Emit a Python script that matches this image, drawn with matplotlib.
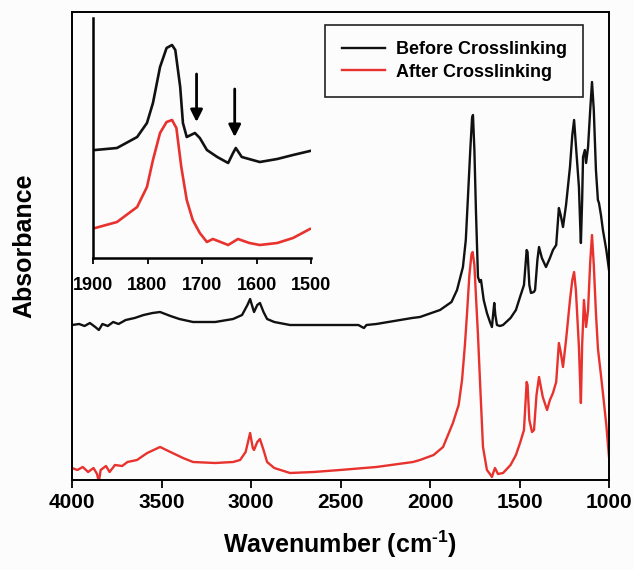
import numpy as np
import matplotlib
matplotlib.use("Agg")
import matplotlib.pyplot as plt

plt.rcParams['font.family'] = ['Liberation Sans', 'DejaVu Sans']
plt.rcParams['font.weight'] = 'bold'
plt.rcParams['mathtext.fontset'] = 'custom'
plt.rcParams['mathtext.rm'] = 'Liberation Sans:bold'

# main spectra (wavenumber, absorbance a.u.)
before_wn = [4000, 3960, 3930, 3900, 3870, 3850, 3830, 3800, 3770, 3740, 3700, 3650, 3600,
             3550, 3508, 3450, 3400, 3324, 3200, 3100, 3050, 3020, 3005, 2990, 2983, 2965,
             2950, 2930, 2910, 2870, 2782, 2600, 2400, 2380, 2369, 2355, 2300, 2200, 2100,
             2056, 1944, 1880, 1849, 1816, 1800, 1788, 1775, 1765, 1760, 1752, 1743, 1732,
             1722, 1715, 1700, 1682, 1665, 1654, 1646, 1641, 1635, 1626, 1610, 1592, 1550,
             1520, 1497, 1475, 1460, 1455, 1445, 1436, 1420, 1413, 1400, 1391, 1375, 1352,
             1330, 1313, 1295, 1280, 1270, 1257, 1240, 1218, 1205, 1195, 1185, 1168, 1160,
             1157, 1150, 1145, 1135, 1128, 1117, 1105, 1095, 1085, 1073, 1062, 1056, 1045,
             1034, 1015, 1000]
before_abs = [1.55, 1.56, 1.54, 1.57, 1.53, 1.50, 1.56, 1.54, 1.58, 1.56, 1.60, 1.62, 1.65,
              1.67, 1.68, 1.64, 1.61, 1.58, 1.58, 1.61, 1.65, 1.75, 1.81, 1.72, 1.68, 1.75,
              1.77, 1.68, 1.61, 1.58, 1.55, 1.55, 1.55, 1.53, 1.52, 1.55, 1.56, 1.59, 1.62,
              1.63, 1.70, 1.78, 1.90, 2.13, 2.40, 2.83, 3.30, 3.62, 3.65, 3.30, 2.67, 2.03,
              1.98, 2.00, 1.80, 1.67, 1.58, 1.53, 1.68, 1.77, 1.65, 1.55, 1.54, 1.55, 1.62,
              1.70, 1.83, 1.95, 2.30, 2.28, 1.95, 1.87, 1.88, 1.90, 2.20, 2.33, 2.22, 2.13,
              2.22, 2.30, 2.35, 2.72, 2.65, 2.53, 2.75, 3.13, 3.45, 3.60, 3.35, 2.93, 2.50,
              2.37, 2.80, 3.23, 3.30, 3.17, 3.33, 3.70, 3.98, 3.70, 3.10, 2.80, 2.77, 2.65,
              2.50, 2.30, 2.10]

after_wn = [4000, 3970, 3940, 3910, 3880, 3860, 3850, 3840, 3810, 3790, 3760, 3720, 3690,
            3637, 3580, 3508, 3450, 3380, 3324, 3200, 3100, 3061, 3030, 3005, 2990, 2983,
            2965, 2950, 2930, 2910, 2870, 2782, 2650, 2503, 2300, 2095, 2056, 1980, 1927,
            1872, 1840, 1821, 1805, 1793, 1780, 1768, 1762, 1752, 1743, 1732, 1721, 1704,
            1682, 1665, 1654, 1645, 1637, 1620, 1592, 1550, 1520, 1497, 1475, 1460, 1455,
            1445, 1430, 1419, 1405, 1391, 1370, 1346, 1330, 1313, 1295, 1280, 1270, 1257,
            1240, 1218, 1205, 1195, 1185, 1168, 1160, 1157, 1150, 1140, 1128, 1117, 1105,
            1095, 1085, 1073, 1062, 1056, 1045, 1034, 1015, 1000]
after_abs = [0.12, 0.10, 0.13, 0.08, 0.12, 0.06, -0.02, 0.10, 0.14, 0.08, 0.15, 0.14, 0.18,
             0.20, 0.27, 0.33, 0.28, 0.22, 0.18, 0.17, 0.18, 0.20, 0.28, 0.47, 0.32, 0.30,
             0.38, 0.41, 0.30, 0.18, 0.12, 0.07, 0.08, 0.10, 0.13, 0.18, 0.20, 0.25, 0.33,
             0.57, 0.75, 1.00, 1.35, 1.67, 2.05, 2.26, 2.28, 2.15, 1.83, 1.45, 1.00, 0.33,
             0.10, 0.06, 0.03, 0.08, 0.12, 0.06, 0.07, 0.15, 0.25, 0.37, 0.50, 0.98, 0.95,
             0.60, 0.48, 0.50, 0.85, 1.03, 0.83, 0.70, 0.80, 0.87, 0.98, 1.37, 1.28, 1.13,
             1.40, 1.80, 2.00, 2.08, 1.90, 1.33, 0.90, 0.77, 1.35, 1.80, 1.53, 1.70, 2.18,
             2.45, 2.15, 1.67, 1.32, 1.22, 1.05, 0.87, 0.55, 0.23]

# inset, carbonyl region
inset_wn = [1896, 1856, 1819, 1801, 1790, 1777, 1765, 1755, 1749, 1740, 1735, 1728, 1713,
            1704, 1691, 1672, 1652, 1643, 1638, 1627, 1594, 1562, 1533, 1502]
inset_before = [1.08, 1.10, 1.21, 1.35, 1.55, 1.91, 2.10, 2.13, 2.08, 1.71, 1.35, 1.21,
                1.25, 1.20, 1.08, 1.01, 0.95, 1.05, 1.10, 1.01, 0.96, 0.99, 1.03, 1.07]
inset_wn_after = [1896, 1856, 1819, 1801, 1790, 1777, 1765, 1755, 1747, 1738, 1728, 1717,
                  1704, 1691, 1680, 1652, 1634, 1613, 1594, 1562, 1533, 1502]
inset_after = [0.30, 0.36, 0.51, 0.71, 0.98, 1.25, 1.36, 1.38, 1.30, 0.91, 0.58, 0.38,
               0.25, 0.16, 0.19, 0.13, 0.19, 0.15, 0.13, 0.15, 0.20, 0.29]
arrow_wn = [1710, 1640]
arrow_tail = [1.84, 1.69]
arrow_tip = [1.36, 1.21]

black = '#111111'
red = '#e8322e'

fig = plt.figure(figsize=(6.34, 5.70), dpi=100, facecolor='#fcfcfc')
ax = fig.add_axes([72/634, 90/570, 537/634, 468/570])
ax.set_facecolor('#fcfcfc')
ax.plot(before_wn, before_abs, color=black, lw=1.7, label='Before Crosslinking')
ax.plot(after_wn, after_abs, color=red, lw=1.7, label='After Crosslinking')
ax.set_xlim(4000, 1000)
ax.set_ylim(0, 4.68)
ax.set_xticks([4000, 3500, 3000, 2500, 2000, 1500, 1000])
ax.set_yticks([])
ax.tick_params(axis='x', direction='out', length=6, width=1.3, labelsize=15, pad=3)
for s in ax.spines.values():
    s.set_linewidth(1.4)
ax.set_xlabel(r'Wavenumber (cm$^{\text{-1}}$)', fontsize=18, fontweight='bold', labelpad=12)
ax.set_ylabel('Absorbance', fontsize=18, fontweight='bold', labelpad=26)

leg = ax.legend(loc='upper right', bbox_to_anchor=(583/634, 1 - 25/570),
                bbox_transform=fig.transFigure, fontsize=13, frameon=True,
                fancybox=False, edgecolor='#222222', framealpha=1,
                handlelength=2.4, handletextpad=0.6, borderpad=0.9, labelspacing=0.3,
                borderaxespad=0)
leg.get_frame().set_linewidth(1.2)
leg.get_frame().set_facecolor('#fcfcfc')

ins = fig.add_axes([93/634, 312/570, 218/634, 240/570])
ins.plot(inset_wn, inset_before, color=black, lw=1.9)
ins.plot(inset_wn_after, inset_after, color=red, lw=1.9)
ins.set_xlim(1900, 1500)
ins.set_ylim(0, 2.4)
ins.set_xticks([1900, 1800, 1700, 1600, 1500])
ins.set_yticks([])
ins.spines['top'].set_visible(False)
ins.spines['right'].set_visible(False)
ins.spines['left'].set_linewidth(1.8)
ins.spines['bottom'].set_linewidth(1.8)
ins.patch.set_alpha(0)
ins.tick_params(axis='x', direction='out', length=4, width=1.3, labelsize=13, pad=10)
for w, t0, t1 in zip(arrow_wn, arrow_tail, arrow_tip):
    ins.annotate('', xy=(w, t1), xytext=(w, t0),
                 arrowprops=dict(arrowstyle='-|>', color='black', lw=2,
                                 mutation_scale=18, shrinkA=0, shrinkB=0))

fig.savefig('out.png', dpi=100, facecolor=fig.get_facecolor())
